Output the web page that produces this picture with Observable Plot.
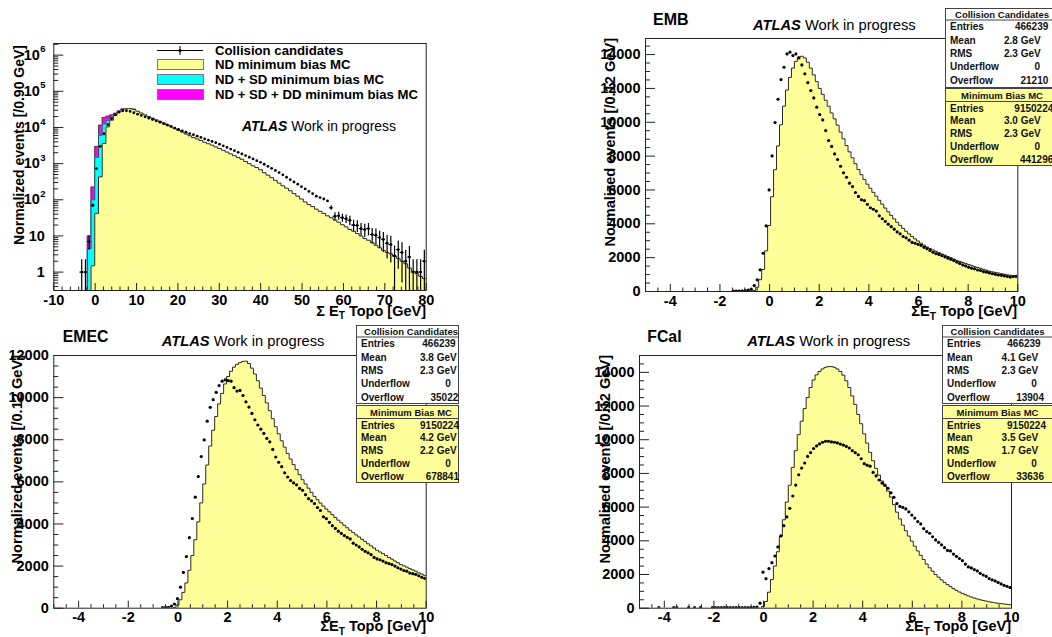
<!DOCTYPE html>
<html>
<head>
<meta charset="utf-8">
<script src="https://cdn.jsdelivr.net/npm/d3@7"></script>
<script src="https://cdn.jsdelivr.net/npm/@observablehq/plot@0.6"></script>
<style>
  html, body { margin: 0; padding: 0; background: #fff; }
  #page { position: relative; width: 1052px; height: 637px; overflow: hidden; background: #fff; }
</style>
</head>
<body>
<div id="page"></div>
<script>
// ================= DATA =================
// ---- Panel 1: all calorimeters, log scale, 0.90 GeV bins ----
const p1BinWidth = 0.9;
const p1XTicks = [-10, 0, 10, 20, 30, 40, 50, 60, 70, 80];
const p1YTicks = [1, 10, 100, 1000, 10000, 100000, 1000000];
const p1YTickBase = ["1", "10", "10", "10", "10", "10", "10"];
const p1YTickExp = ["", "", "2", "3", "4", "5", "6"];
// collision candidates (first bin centre -3.25)
const p1DataFirst = -3.25;
const p1Data = [
  1, 1, 7, 70, 730, 3000, 6700, 12000, 17500, 22500,
  26500, 28800, 29000, 27800, 25500, 23300, 21500, 19700, 18100, 16600,
  15200, 14000, 12700, 11700, 10700, 9600, 8800, 8100, 7400, 6800,
  6300, 5750, 5300, 4850, 4450, 4100, 3800, 3450, 3100, 2800,
  2530, 2280, 2060, 1850, 1670, 1500, 1350, 1210, 1090, 960,
  840, 740, 650, 565, 490, 420, 360, 310, 270, 230,
  200, 170, 148, 126, 115, 105, 93, 60, 35, 36,
  32, 30, 27, 20, 19.5, 16, 15, 16, 11, 10.5,
  9, 8, 6.3, 5.8, 2.8, 4.2, 3.5, 2, 2.6, 1,
  1, 1, 2
];
const p1DataErr = [
  1.2, 1.2, 3, 8, 0, 0, 0, 0, 0, 0,
  0, 0, 0, 0, 0, 0, 0, 0, 0, 0,
  0, 0, 0, 0, 0, 0, 0, 0, 0, 0,
  0, 0, 0, 0, 0, 0, 0, 0, 0, 0,
  0, 0, 0, 0, 0, 0, 0, 0, 0, 0,
  0, 0, 0, 0, 0, 0, 0, 0, 0, 0,
  0, 0, 0, 0, 0, 0, 0, 8, 9, 9,
  8, 8, 8, 7, 7, 6, 6, 6, 5, 5,
  4.5, 4.5, 4, 4, 2.5, 3, 3, 2, 2.5, 1.2,
  1.2, 1.2, 2
];
// ND minimum bias MC (first bin centre -0.55)
const p1NDFirst = -0.55;
const p1ND = [
  1.5, 42, 430, 3600, 10400, 15900, 21900, 27000, 31500, 33000,
  33000, 31500, 28200, 25100, 22400, 20000, 18200, 16200, 14800, 13200,
  11700, 10500, 9300, 8300, 7400, 6600, 5900, 5250, 4800, 4350,
  3900, 3550, 3230, 2900, 2630, 2340, 2090, 1860, 1660, 1480,
  1320, 1150, 1000, 870, 780, 675, 560, 480, 410, 345,
  290, 245, 210, 178, 148, 126, 105, 87, 74, 65,
  55, 48, 42, 36, 32, 27.5, 24, 20.4, 17.8, 15.1,
  13.5, 11.7, 10, 8.5, 7.6, 6.5, 5.5, 4.7, 4.0, 3.5,
  3.2, 2.8, 2.4, 2.0, 1.7, 1.3, 1.05, 0.9, 0.76, 0.66
];
// ND+SD and ND+SD+DD (first bin centre -1.45), where they differ from ND
const p1SDFirst = -1.45;
const p1NDSD = [4.5, 100, 1500, 6100, 12600, 15900, 19000, 22800, 27800, 32000, 33300, 33200, 31700];
const p1NDSDDD = [10, 225, 3000, 11500, 19000, 20500, 22300, 24700, 28500, 32200, 33500, 33400, 31800];

// ---- Panels 2-4: 0.12 GeV bins ----
const binWidth = 0.12;
const xTicks = [-4, -2, 0, 2, 4, 6, 8, 10];
const yTicksEMB = [0, 2000, 4000, 6000, 8000, 10000, 12000, 14000];
const yTicksEMEC = [0, 2000, 4000, 6000, 8000, 10000, 12000];
const yTicksFCal = [0, 2000, 4000, 6000, 8000, 10000, 12000, 14000];

// EMB
const embDataFirst = -1.46;
const embData = [
  30, 20, 30, 40, 60, 80, 140, 350, 690, 1280,
  2260, 3880, 6000, 8010, 9980, 11360, 12520, 13250, 14040, 14140,
  13940, 14040, 13800, 13390, 12860, 12340, 11870, 11440, 10890, 10460,
  10140, 9510, 8920, 8570, 8130, 7800, 7400, 7010, 6750, 6400,
  6200, 5850, 5620, 5420, 5370, 5150, 4950, 4860, 4750, 4470,
  4300, 4140, 3980, 3830, 3680, 3520, 3410, 3250, 3170, 3030,
  2900, 2850, 2790, 2720, 2610, 2530, 2430, 2320, 2240, 2190,
  2120, 2050, 1970, 1900, 1830, 1740, 1660, 1570, 1510, 1440,
  1380, 1340, 1270, 1240, 1170, 1140, 1100, 1050, 1010, 975,
  955, 920, 885, 850, 880, 890
];
const embMCFirst = -0.74;
const embMC = [
  20, 60, 250, 700, 1300, 2400, 3900, 5600, 7200, 8600,
  9850, 10950, 11900, 12650, 13200, 13600, 13850, 13900, 13800, 13550,
  13200, 12800, 12400, 12000, 11650, 11300, 10950, 10550, 10200, 9830,
  9420, 9020, 8620, 8250, 7900, 7550, 7200, 6900, 6620, 6340,
  6100, 5860, 5630, 5390, 5160, 4930, 4710, 4500, 4290, 4090,
  3910, 3730, 3560, 3400, 3250, 3110, 2980, 2860, 2740, 2630,
  2540, 2460, 2380, 2300, 2220, 2150, 2070, 2000, 1920, 1840,
  1780, 1720, 1660, 1600, 1540, 1470, 1420, 1370, 1310, 1260,
  1200, 1160, 1130, 1090, 1050, 1020, 985, 960, 930, 905
];
// EMEC
const emecDataFirst = -0.62;
const emecData = [
  30, 40, 40, 100, 200, 450, 1000, 1700, 2450, 3350,
  4260, 5270, 6250, 7200, 7990, 8880, 9540, 9900, 10250, 10570,
  10780, 10840, 10810, 10780, 10470, 10310, 10340, 10100, 9800, 9550,
  9250, 8950, 8700, 8500, 8300, 8060, 7900, 7540, 7180, 6930,
  6720, 6430, 6230, 6060, 5950, 5860, 5690, 5600, 5390, 5200,
  5100, 4970, 4780, 4640, 4340, 4250, 4080, 3920, 3790, 3660,
  3550, 3450, 3360, 3290, 3090, 3000, 2910, 2800, 2700, 2630,
  2540, 2410, 2340, 2300, 2240, 2160, 2120, 2070, 2000, 1920,
  1860, 1790, 1760, 1670, 1640, 1610, 1540, 1470, 1420
];
const emecMCFirst = -0.14;
const emecMC = [
  30, 150, 400, 750, 1200, 1800, 2500, 3250, 4100, 5000,
  5900, 6800, 7700, 8450, 9100, 9700, 10200, 10650, 11000, 11250,
  11450, 11580, 11660, 11720, 11730, 11620, 11400, 11120, 10800, 10450,
  10100, 9750, 9380, 9000, 8620, 8280, 7950, 7650, 7350, 7080,
  6820, 6580, 6340, 6100, 5900, 5700, 5500, 5310, 5150, 4990,
  4850, 4710, 4580, 4440, 4310, 4180, 4060, 3940, 3820, 3700,
  3590, 3480, 3380, 3270, 3170, 3060, 2960, 2860, 2750, 2670,
  2590, 2500, 2410, 2330, 2240, 2160, 2070, 2010, 1950, 1880,
  1820, 1760, 1680, 1620, 1560
];
// FCal
const fcalDataFirst = -4.22;
const fcalData = [
  30, 0, 0, 0, 0, 30, 30, 0, 0, 0,
  30, 0, 30, 0, 30, 0, 0, 0, 30, 30,
  30, 30, 30, 30, 30, 30, 30, 30, 40, 30,
  40, 40, 50, 60, 300, 2140, 1750, 2350, 2700, 3100,
  3640, 4290, 4900, 5420, 5930, 6660, 7310, 7920, 8320, 8620,
  9010, 9240, 9480, 9630, 9750, 9850, 9910, 9910, 9870, 9850,
  9810, 9740, 9680, 9600, 9510, 9350, 9230, 9110, 8870, 8580,
  8490, 8430, 8060, 7850, 7610, 7430, 7300, 7120, 6850, 6580,
  6210, 6040, 5980, 5890, 5720, 5530, 5350, 5140, 5000, 4720,
  4550, 4450, 4240, 4050, 3910, 3760, 3590, 3430, 3400, 3210,
  3080, 2950, 2820, 2620, 2450, 2390, 2290, 2210, 2070, 1970,
  1890, 1760, 1680, 1620, 1530, 1440, 1360, 1300, 1230
];
const fcalMCFirst = -0.02;
const fcalMC = [
  100, 400, 950, 1700, 2500, 3350, 4270, 5250, 6300, 7300,
  8350, 9350, 10300, 11100, 11850, 12500, 13100, 13550, 13850, 14050,
  14200, 14300, 14340, 14340, 14300, 14200, 14050, 13830, 13500, 13100,
  12600, 12100, 11500, 10950, 10350, 9800, 9250, 8750, 8300, 7900,
  7550, 7250, 6950, 6600, 6150, 5700, 5300, 4930, 4600, 4280,
  3980, 3680, 3400, 3140, 2890, 2620, 2400, 2200, 2000, 1840,
  1680, 1530, 1400, 1280, 1160, 1060, 960, 880, 800, 730,
  660, 600, 550, 500, 460, 420, 380, 350, 320, 290,
  270, 250, 230, 210
];

// ---- statistics boxes ----
const statLabels = ["Entries", "Mean", "RMS", "Underflow", "Overflow"];
const embCollStats = ["466239", "2.8 GeV", "2.3 GeV", "0", "21210"];
const embMCStats = ["9150224", "3.0 GeV", "2.3 GeV", "0", "441296"];
const emecCollStats = ["466239", "3.8 GeV", "2.3 GeV", "0", "35022"];
const emecMCStats = ["9150224", "4.2 GeV", "2.2 GeV", "0", "678841"];
const fcalCollStats = ["466239", "4.1 GeV", "2.3 GeV", "0", "13904"];
const fcalMCStats = ["9150224", "3.5 GeV", "1.7 GeV", "0", "33636"];

const legendLabels = ["Collision candidates", "ND minimum bias MC", "ND + SD minimum bias MC", "ND + SD + DD minimum bias MC"];

// ================= DRAWING =================
const FONT = '"Liberation Sans", Arial, Helvetica, sans-serif';
const YELLOW = "#ffff99";
const CYAN = "#00ffff";
const MAGENTA = "#ff00ff";
const INK = "#222";
const page = document.getElementById("page");

function place(node, left, top) {
  const d = document.createElement("div");
  d.style.cssText = `position:absolute;left:${left}px;top:${top}px;`;
  d.appendChild(node);
  page.appendChild(d);
}
function steps(first, width, values, base) {
  const lo = first - width / 2;
  const pts = [{x: lo, y: base}];
  values.forEach((v, i) => pts.push({x: lo + i * width, y: v}));
  pts.push({x: lo + values.length * width, y: values[values.length - 1]});
  return pts;
}
function points(first, width, values, errs) {
  return values.map((v, i) => ({x: first + i * width, y: v, err: errs ? errs[i] : 0})).filter(d => d.y > 0);
}

function linearPanel(cfg) {
  const mcSteps = steps(cfg.mcFirst, binWidth, cfg.mc, 0);
  const pts = points(cfg.dataFirst, binWidth, cfg.data);
  const xMinor = d3.range(-5, 10.0001, 0.5).map(v => +v.toFixed(2)).filter(v => !xTicks.includes(v));
  const yMinor = d3.range(0, cfg.yMax, 500).filter(v => !cfg.yTicks.includes(v));
  return Plot.plot({
    width: cfg.width, height: cfg.height,
    marginLeft: cfg.mL, marginRight: cfg.mR, marginTop: cfg.mT, marginBottom: cfg.mB,
    x: {domain: [-5, 10]},
    y: {domain: [0, cfg.yMax]},
    style: {background: "transparent", fontFamily: FONT, color: "#000"},
    marks: [
      Plot.areaY(mcSteps, {x: "x", y: "y", curve: "step-after", fill: YELLOW, clip: true}),
      Plot.line(mcSteps, {x: "x", y: "y", curve: "step-after", stroke: "#2a2a2a", strokeWidth: 1, clip: true}),
      Plot.dot(pts, {x: "x", y: "y", r: 1.6, fill: "#000", clip: true}),
      Plot.frame({stroke: INK}),
      Plot.axisX(xMinor, {tickSize: -3.5, fill: "none", stroke: INK}),
      Plot.axisX(xTicks, {tickSize: -7, fill: "none", stroke: INK}),
      Plot.axisX(xTicks, {tickSize: 0, tickPadding: 4, stroke: "none", fill: "#000", fontSize: 14.5, fontWeight: "bold", tickFormat: d => String(d), label: null}),
      Plot.axisY(yMinor, {tickSize: -5, fill: "none", stroke: INK}),
      Plot.axisY(cfg.yTicks, {tickSize: -10, fill: "none", stroke: INK}),
      Plot.axisY(cfg.yTicks, {tickSize: 0, tickPadding: 5, stroke: "none", fill: "#000", fontSize: 14.5, fontWeight: "bold", tickFormat: d => String(d), label: null})
    ]
  });
}

function logPanel() {
  const base = 0.1;
  const magSteps = steps(p1SDFirst, p1BinWidth, p1NDSDDD, base);
  const cyaSteps = steps(p1SDFirst, p1BinWidth, p1NDSD, base);
  const ndSteps = steps(p1NDFirst, p1BinWidth, p1ND, base);
  const pts = points(p1DataFirst, p1BinWidth, p1Data, p1DataErr);
  const errPts = pts.filter(d => d.err > 0);
  const yMinor = [];
  for (let e = -1; e <= 6; e++) for (let m = 2; m <= 9; m++) {
    const v = m * Math.pow(10, e);
    if (v >= 0.31 && v <= 2.1e6) yMinor.push(v);
  }
  const xMinor = d3.range(-10, 80.001, 2).filter(v => !p1XTicks.includes(v));
  const plainIdx = p1YTicks.filter((d, i) => p1YTickExp[i] === "");
  const powIdx = p1YTicks.filter((d, i) => p1YTickExp[i] !== "");
  const labelOf = d => p1YTickBase[p1YTicks.indexOf(d)];
  const expOf = d => p1YTickExp[p1YTicks.indexOf(d)];
  const area = (s, fill) => Plot.areaY(s, {x: "x", y1: base, y2: "y", curve: "step-after", fill, clip: true});
  const outline = (s, stroke) => Plot.line(s, {x: "x", y: "y", curve: "step-after", stroke, strokeWidth: 1, clip: true});
  return Plot.plot({
    width: 450, height: 320,
    marginLeft: 53.3, marginRight: 24.3, marginTop: 43, marginBottom: 30,
    x: {domain: [-10, 80]},
    y: {type: "log", domain: [0.31, 2.1e6]},
    style: {background: "transparent", fontFamily: FONT, color: "#000"},
    marks: [
      area(magSteps, MAGENTA), outline(magSteps, "#444"),
      area(cyaSteps, CYAN), outline(cyaSteps, "#444"),
      area(ndSteps, YELLOW), outline(ndSteps, "#2a2a2a"),
      Plot.ruleX(errPts, {x: "x", y1: d => Math.max(d.y - d.err, base), y2: d => d.y + d.err, stroke: "#000", strokeWidth: 1.2, clip: true}),
      Plot.ruleY(errPts, {y: "y", x1: d => d.x - p1BinWidth / 2, x2: d => d.x + p1BinWidth / 2, stroke: "#000", clip: true}),
      Plot.dot(pts, {x: "x", y: "y", r: 1.4, fill: "#000", clip: true}),
      Plot.frame({stroke: INK}),
      Plot.axisX(xMinor, {tickSize: -3.5, fill: "none", stroke: INK}),
      Plot.axisX(p1XTicks, {tickSize: -7, fill: "none", stroke: INK}),
      Plot.axisX(p1XTicks, {tickSize: 0, tickPadding: 4, stroke: "none", fill: "#000", fontSize: 14.5, fontWeight: "bold", tickFormat: d => String(d), label: null}),
      Plot.axisY(yMinor, {tickSize: -5, fill: "none", stroke: INK}),
      Plot.axisY(p1YTicks, {tickSize: -10, fill: "none", stroke: INK}),
      Plot.text(plainIdx, {y: d => d, text: labelOf, frameAnchor: "left", dx: -9, textAnchor: "end", fontSize: 14.5, fontWeight: "bold", fill: "#000"}),
      Plot.text(powIdx, {y: d => d, text: labelOf, frameAnchor: "left", dx: -14, textAnchor: "end", fontSize: 14.5, fontWeight: "bold", fill: "#000"}),
      Plot.text(powIdx, {y: d => d, text: expOf, frameAnchor: "left", dx: -13.5, dy: -6, textAnchor: "start", fontSize: 9.5, fontWeight: "bold", fill: "#000"})
    ]
  });
}

// ---- panels ----
place(logPanel(), 0, 0);
place(linearPanel({width: 462, height: 320, mL: 55, mR: 34.7, mT: 38, mB: 29, yMax: 14950, yTicks: yTicksEMB,
  dataFirst: embDataFirst, data: embData, mcFirst: embMCFirst, mc: embMC}), 590, 0);
place(linearPanel({width: 450, height: 317, mL: 53.3, mR: 24.3, mT: 35, mB: 29.3, yMax: 12000, yTicks: yTicksEMEC,
  dataFirst: emecDataFirst, data: emecData, mcFirst: emecMCFirst, mc: emecMC}), 0, 320);
place(linearPanel({width: 462, height: 317, mL: 49, mR: 41, mT: 35, mB: 29.3, yMax: 15000, yTicks: yTicksFCal,
  dataFirst: fcalDataFirst, data: fcalData, mcFirst: fcalMCFirst, mc: fcalMC}), 590, 320);

// ---- overlay: titles, axis titles, legend, stat boxes ----
const svg = d3.create("svg").attr("width", 1052).attr("height", 637)
  .style("position", "absolute").style("left", "0px").style("top", "0px")
  .attr("font-family", FONT);

function text(x, y, s, o = {}) {
  return svg.append("text").attr("x", x).attr("y", y)
    .attr("font-size", o.size || 14).attr("font-weight", o.weight || "bold")
    .attr("text-anchor", o.anchor || "start").attr("fill", "#000").text(s);
}
function yTitle(x, yEnd, s, size) {
  svg.append("text").attr("transform", `translate(${x},${yEnd}) rotate(-90)`)
    .attr("text-anchor", "end").attr("font-size", size).attr("font-weight", "bold").attr("fill", "#000").text(s);
}
function xTitle(xRight, y, gap, size) {
  const t = svg.append("text").attr("x", xRight).attr("y", y).attr("text-anchor", "end")
    .attr("font-size", size).attr("font-weight", "bold").attr("fill", "#000");
  t.append("tspan").text(gap ? "\u03A3 E" : "\u03A3E");
  t.append("tspan").attr("font-size", size * 0.7).attr("dy", 3.5).text("T");
  t.append("tspan").attr("dy", -3.5).text(" Topo [GeV]");
}
function atlas(x, y, size) {
  const t = svg.append("text").attr("x", x).attr("y", y).attr("font-size", size).attr("fill", "#000");
  t.append("tspan").attr("font-weight", "bold").attr("font-style", "italic").text("ATLAS");
  t.append("tspan").attr("font-weight", "normal").text(" Work in progress");
}
function statBox(x, y, w, h, title, titleCx, values, rights, fill, second) {
  const g = svg.append("g");
  g.append("rect").attr("x", x + 0.5).attr("y", y + 0.5).attr("width", w).attr("height", h)
    .attr("fill", fill).attr("stroke", "#444").attr("stroke-width", 1);
  const hc = second ? 7.5 : 6, ly = second ? 13 : 11.5, r0 = second ? 20 : 18.8, rs = second ? 12.8 : 13.3;
  g.append("line").attr("x1", x).attr("x2", x + w).attr("y1", y + ly + 0.5).attr("y2", y + ly + 0.5).attr("stroke", "#444");
  g.append("text").attr("x", titleCx).attr("y", y + hc + 3.5).attr("text-anchor", "middle")
    .attr("font-size", 9.5).attr("font-weight", "bold").attr("fill", "#111").text(title);
  statLabels.forEach((lab, i) => {
    g.append("text").attr("x", x + 5).attr("y", y + r0 + i * rs + 3.6).attr("font-size", 10)
      .attr("font-weight", "bold").attr("fill", "#111").text(lab);
    g.append("text").attr("x", x + rights[i]).attr("y", y + r0 + i * rs + 3.6).attr("font-size", 10)
      .attr("text-anchor", "end").attr("font-weight", "bold").attr("fill", "#111").text(values[i]);
  });
}

// Panel 1 texts
yTitle(23.5, 45, "Normalized events [/0.90 GeV]", 14);
xTitle(426, 315.5, true, 14.5);
atlas(242, 131, 13.9);
// legend
svg.append("line").attr("x1", 157).attr("x2", 203).attr("y1", 50.5).attr("y2", 50.5).attr("stroke", "#000");
svg.append("line").attr("x1", 180).attr("x2", 180).attr("y1", 46).attr("y2", 55).attr("stroke", "#000");
svg.append("circle").attr("cx", 180).attr("cy", 50.5).attr("r", 1.5).attr("fill", "#000");
[[59.5, YELLOW], [74.5, CYAN], [89.5, MAGENTA]].forEach(([yy, c]) => {
  svg.append("rect").attr("x", 157.5).attr("y", yy).attr("width", 46).attr("height", 10)
    .attr("fill", c).attr("stroke", "#777");
});
[54.7, 69.2, 84.2, 99.2].forEach((yy, i) => text(215, yy, legendLabels[i], {size: 13.2}));

// Panel 2 (EMB)
text(653, 25, "EMB", {size: 16});
atlas(753, 29.5, 14.7);
yTitle(615, 38, "Normalized events [/0.12 GeV]", 14.6);
xTitle(1017, 316, false, 14.5);
statBox(945, 8, 113, 79, "Collision Candidates", 1002, embCollStats, [103.3, 95.7, 95.7, 95, 103.3], "#fff", false);
statBox(945, 88, 113, 77, "Minimum Bias MC", 1002, embMCStats, [108.3, 95.7, 95.7, 95, 108.3], YELLOW, true);

// Panel 3 (EMEC)
text(62.7, 341.7, "EMEC", {size: 15.8});
atlas(161.7, 346, 14.7);
yTitle(21.7, 355, "Normalized events [/0.12 GeV]", 14.6);
xTitle(426, 631, false, 14.5);
statBox(356, 325, 102, 78, "Collision Candidates", 411, emecCollStats, [99.7, 100.7, 100.7, 94.7, 102.3], "#fff", false);
statBox(356, 405, 102, 77, "Minimum Bias MC", 411, emecMCStats, [103, 100.7, 100.7, 94.7, 103], YELLOW, true);

// Panel 4 (FCal)
text(647.3, 341.7, "FCal", {size: 15.8});
atlas(747.3, 346, 14.7);
yTitle(610, 355, "Normalized events [/0.12 GeV]", 14.6);
xTitle(1011, 631, false, 14.5);
statBox(942, 325, 111, 78, "Collision Candidates", 997.5, fcalCollStats, [98.7, 96.3, 96.3, 94.7, 102], "#fff", false);
statBox(942, 405, 111, 77, "Minimum Bias MC", 997.5, fcalMCStats, [104, 96.3, 96.3, 94.7, 102], YELLOW, true);

page.appendChild(svg.node());
</script>
</body>
</html>
